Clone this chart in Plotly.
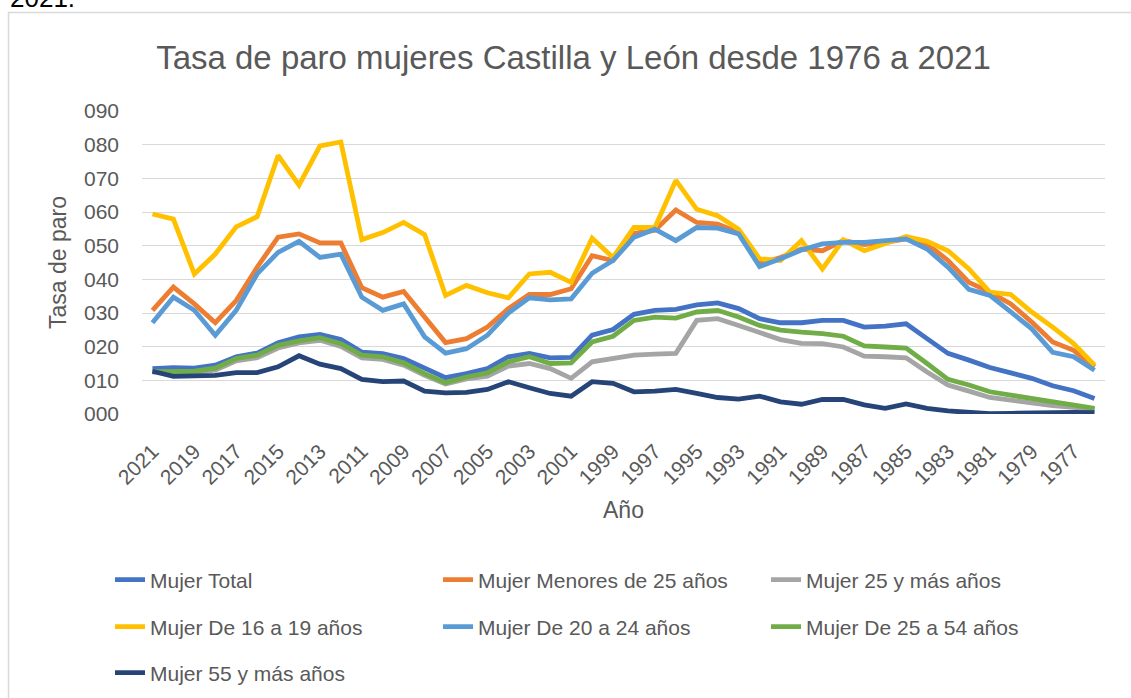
import plotly.graph_objects as go

years = [str(y) for y in range(2021, 1975, -1)]
tick_years = years[::2]
y_ticks = [0, 10, 20, 30, 40, 50, 60, 70, 80, 90]

total = [13.5, 13.8, 13.6, 14.5, 17.0, 18.1, 21.2, 22.9, 23.6, 22.1,
         18.4, 17.9, 16.5, 13.5, 10.8, 12.0, 13.5, 17.0, 18.0, 16.7,
         16.8, 23.4, 25.1, 29.6, 30.8, 31.1, 32.4, 33.0, 31.3, 28.3,
         27.1, 27.1, 27.8, 27.8, 25.8, 26.1, 26.8, 22.4, 18.0, 16.0,
         13.8, 12.2, 10.6, 8.4, 6.9, 4.6]
menores25 = [30.8, 37.7, 32.7, 27.1, 33.7, 43.6, 52.5, 53.5, 50.8, 50.8,
             37.5, 34.7, 36.4, 28.8, 21.2, 22.4, 25.8, 31.3, 35.5, 35.5,
             37.2, 47.0, 45.6, 53.6, 54.6, 60.6, 56.9, 56.4, 53.9, 44.6,
             46.5, 49.0, 48.5, 51.5, 50.3, 51.0, 52.0, 50.5, 45.6, 39.1,
             36.2, 32.7, 27.3, 21.4, 18.9, 14.0]
mas25 = [12.5, 12.4, 12.4, 13.0, 15.8, 16.7, 19.6, 21.1, 21.9, 20.1,
         16.7, 16.2, 14.5, 11.5, 8.9, 10.4, 11.2, 14.2, 15.0, 13.5,
         10.6, 15.5, 16.5, 17.5, 17.8, 18.0, 27.8, 28.3, 26.3, 24.1,
         22.1, 21.0, 20.9, 19.9, 17.2, 17.0, 16.7, 12.5, 8.6, 6.8,
         4.9, 4.1, 3.2, 2.5, 2.0, 1.4]
de16a19 = [59.4, 57.9, 41.6, 47.5, 55.6, 58.6, 76.8, 68.0, 79.6, 80.8,
           51.8, 53.9, 56.9, 53.3, 35.2, 38.2, 36.0, 34.5, 41.6, 42.1,
           39.1, 52.2, 46.5, 55.4, 55.4, 69.4, 60.8, 58.9, 54.9, 46.1,
           45.6, 51.5, 43.1, 51.7, 48.5, 50.7, 52.7, 51.3, 48.5, 43.1,
           36.2, 35.5, 30.3, 25.8, 20.9, 14.5]
de20a24 = [27.1, 34.7, 30.8, 23.4, 30.8, 41.6, 48.0, 51.3, 46.5, 47.5,
           34.7, 30.8, 32.7, 22.9, 18.1, 19.4, 23.4, 30.0, 34.5, 33.9,
           34.2, 41.8, 45.6, 52.5, 54.9, 51.5, 55.4, 55.2, 53.5, 43.8,
           46.1, 48.7, 50.5, 51.0, 51.0, 51.5, 52.0, 49.0, 43.6, 37.0,
           35.2, 30.3, 25.3, 18.3, 17.0, 13.0]
de25a54 = [12.5, 12.5, 12.7, 13.6, 16.5, 17.5, 20.4, 21.7, 22.7, 20.9,
           17.5, 17.0, 15.2, 12.0, 9.3, 11.0, 12.2, 15.5, 17.0, 15.0,
           15.2, 21.4, 23.1, 27.8, 28.8, 28.5, 30.3, 30.8, 28.8, 26.3,
           24.9, 24.3, 23.9, 23.1, 20.2, 19.9, 19.6, 15.0, 10.3, 8.6,
           6.6, 5.6, 4.6, 3.6, 2.7, 1.7]
mas55 = [12.7, 11.2, 11.3, 11.5, 12.3, 12.3, 14.0, 17.3, 14.8, 13.5,
         10.3, 9.6, 9.8, 6.8, 6.3, 6.4, 7.3, 9.6, 7.8, 6.1,
         5.3, 9.6, 9.1, 6.6, 6.8, 7.3, 6.1, 4.9, 4.4, 5.3,
         3.6, 2.9, 4.3, 4.3, 2.7, 1.7, 3.0, 1.7, 0.9, 0.4,
         0.1, 0.2, 0.4, 0.4, 0.5, 0.4]

series = [
    ("Mujer Total", total, "#4472C4", "legend"),
    ("Mujer Menores de 25 años", menores25, "#ED7D31", "legend"),
    ("Mujer 25 y más años", mas25, "#A5A5A5", "legend"),
    ("Mujer De 16 a 19 años", de16a19, "#FFC000", "legend2"),
    ("Mujer De 20 a 24 años", de20a24, "#5B9BD5", "legend2"),
    ("Mujer De 25 a 54 años", de25a54, "#70AD47", "legend2"),
    ("Mujer 55 y más años", mas55, "#264478", "legend3"),
]

FONT = "Liberation Sans, Arial, sans-serif"
GREY = "#595959"

fig = go.Figure()
for name, vals, color, leg in series:
    fig.add_trace(go.Scatter(
        x=years, y=vals, name=name, mode="lines",
        line=dict(color=color, width=4.8),
        legend=leg, hoverinfo="x+y+name",
    ))

# plot area: x 142..1105, y 111..414
L, R, T, B = 142, 26, 111, 284
W, H = 1131, 698
pw = W - L - R
ph = H - T - B

def px_x(p):
    return (p - L) / pw

def px_y(p):
    return (H - B - p) / ph

leg_common = dict(orientation="h", xanchor="left", yanchor="middle",
                  entrywidth=283, entrywidthmode="pixels",
                  font=dict(family=FONT, size=21, color=GREY),
                  bgcolor="rgba(0,0,0,0)", borderwidth=0, itemwidth=30)

fig.update_layout(
    template="none",
    width=W, height=H,
    margin=dict(l=L, r=R, t=T, b=B, autoexpand=False),
    paper_bgcolor="white", plot_bgcolor="white",
    font=dict(family=FONT, color=GREY),
    title=dict(text="Tasa de paro mujeres Castilla y León desde 1976 a 2021",
               font=dict(family=FONT, size=33, color=GREY),
               x=573.5 / W, xanchor="center", xref="container",
               y=1 - 57 / H, yanchor="middle", yref="container"),
    xaxis=dict(type="category", categoryorder="array", categoryarray=years,
               range=[-0.5, len(years) - 0.5],
               tickmode="array", tickvals=tick_years, ticktext=tick_years,
               tickangle=-45, tickfont=dict(family=FONT, size=21, color=GREY),
               showgrid=False, zeroline=False, showline=False, ticks="",
               ticklabelstandoff=20, automargin=False,
               title=dict(text="Año", font=dict(family=FONT, size=23, color=GREY),
                          standoff=14)),
    yaxis=dict(range=[0, 90], tickmode="array", tickvals=y_ticks,
               tickformat="03d",
               tickfont=dict(family=FONT, size=21, color=GREY),
               showgrid=True, gridcolor="#D9D9D9", gridwidth=1,
               zeroline=False, showline=False, ticks="",
               ticklabelstandoff=22, automargin=False,
               title=dict(text="Tasa de paro", font=dict(family=FONT, size=23, color=GREY),
                          standoff=10)),
    legend=dict(x=px_x(110), y=px_y(580), **leg_common),
    legend2=dict(x=px_x(110), y=px_y(627), **leg_common),
    legend3=dict(x=px_x(110), y=px_y(673), **leg_common),
    shapes=[dict(type="rect", xref="paper", yref="paper",
                 x0=px_x(8.5), x1=px_x(1145), y0=px_y(12.5), y1=px_y(710),
                 line=dict(color="#D9D9D9", width=1.5), fillcolor="rgba(0,0,0,0)",
                 layer="below")],
    annotations=[dict(text="2021.", xref="paper", yref="paper",
                      x=px_x(8), y=px_y(-2), xanchor="left", yanchor="middle",
                      showarrow=False,
                      font=dict(family=FONT, size=26, color="black"))],
)

fig.write_html("out.html", config={"displayModeBar": False},
               post_script="document.body.style.margin='0';")
